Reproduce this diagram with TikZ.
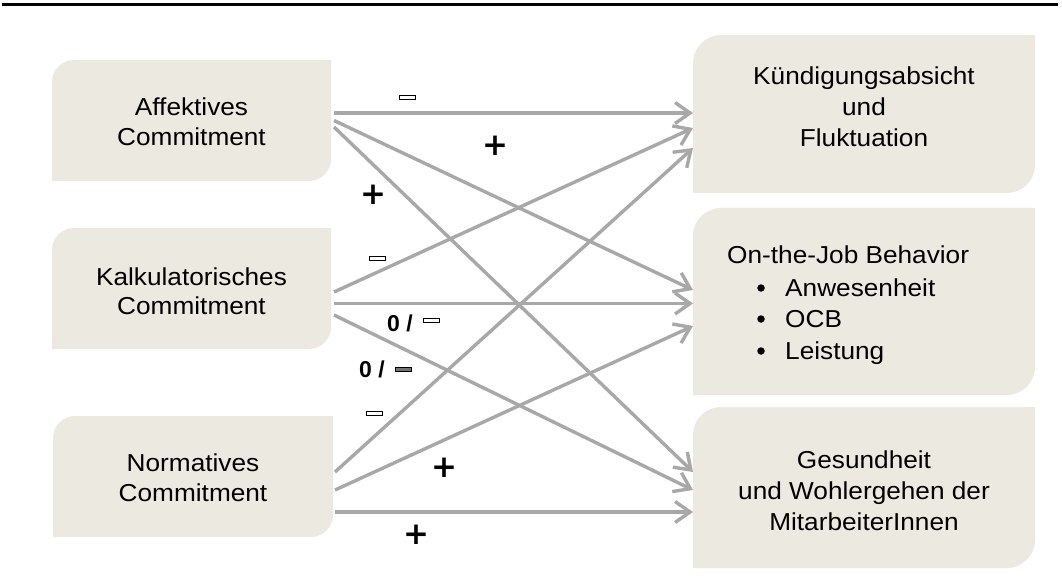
\documentclass[tikz,border=0pt]{standalone}
\usepackage{fontspec}
\setmainfont{Liberation Sans}[FakeStretch=1.07]
\newfontfamily\lblfont{Liberation Sans Bold}
\newfontfamily\plusfont{DejaVu Sans Bold}
\usetikzlibrary{arrows.meta}
\definecolor{boxfill}{RGB}{236,233,224}
\definecolor{arrowgray}{RGB}{168,168,168}
\newcommand\cornerbox[2]{%
  \fill[boxfill] ([yshift=-#2]#1.north west)
    .. controls ([yshift=-0.448*#2]#1.north west) and ([xshift=0.448*#2]#1.north west) .. ([xshift=#2]#1.north west)
    -- (#1.north east)
    -- ([yshift=#2]#1.south east)
    .. controls ([yshift=0.448*#2]#1.south east) and ([xshift=-0.448*#2]#1.south east) .. ([xshift=-#2]#1.south east)
    -- (#1.south west) -- cycle;}
\begin{document}
\begin{tikzpicture}[x=1pt,y=-1pt,
  boxarea/.style={inner sep=0pt,outer sep=0pt,minimum width=#1},
  txt/.style={inner sep=0pt,font=\fontsize{24.5}{30}\selectfont,anchor=base},
  conn/.style={draw=arrowgray,line width=3.4pt,-{Straight Barb[length=15pt,width=21pt,line width=3.4pt]}},
  plussign/.style={inner sep=0pt,font=\plusfont\fontsize{31}{31}\selectfont},
  zerolbl/.style={inner sep=0pt,font=\lblfont\fontsize{23}{23}\selectfont,anchor=base west},
  minusbar/.style={draw=black,line width=0.8pt,fill=white,minimum width=16pt,minimum height=4pt,inner sep=0pt},
  minusdark/.style={minusbar,fill=black!55},
  bulletdot/.style={circle,fill=black,inner sep=0pt,minimum size=7.5pt}]
\useasboundingbox (0,0) rectangle (1062,577);
\draw[line width=3pt] (2,5) -- (1058,5);

% box areas
\node[boxarea=279pt,minimum height=121pt] (aff) at (191.5,120.5) {};
\node[boxarea=279pt,minimum height=121pt] (kalk) at (191.5,288.5) {};
\node[boxarea=280pt,minimum height=121pt] (norm) at (193,476.5) {};
\node[boxarea=342pt,minimum height=158pt] (kuend) at (864,114) {};
\node[boxarea=342pt,minimum height=187pt] (otj) at (864,301.5) {};
\node[boxarea=342pt,minimum height=161pt] (ges) at (864,487.5) {};
\cornerbox{aff}{22pt}
\cornerbox{kalk}{22pt}
\cornerbox{norm}{22pt}
\cornerbox{kuend}{28pt}
\cornerbox{otj}{28pt}
\cornerbox{ges}{28pt}

% texts
\node[txt] (aff1) at (191.5,116) {Affektives};
\node[txt] (aff2) at (191.5,146) {Commitment};
\node[txt] (kalk1) at (191.5,285) {Kalkulatorisches};
\node[txt] (kalk2) at (191.5,314) {Commitment};
\node[txt] (norm1) at (193,471) {Normatives};
\node[txt] (norm2) at (193,501) {Commitment};
\node[txt] (kuend1) at (864,85) {Kündigungsabsicht};
\node[txt] (kuend2) at (864,116) {und};
\node[txt] (kuend3) at (864,147) {Fluktuation};
\node[txt,anchor=base west] (otj1) at (727,263) {On-the-Job Behavior};
\node[bulletdot] (b1) at (761,288) {};
\node[bulletdot] (b2) at (761,319) {};
\node[bulletdot] (b3) at (761,351) {};
\node[txt,anchor=base west] (otj2) at (785,296) {Anwesenheit};
\node[txt,anchor=base west] (otj3) at (785,327) {OCB};
\node[txt,anchor=base west] (otj4) at (785,359) {Leistung};
\node[txt] (ges1) at (864,468) {Gesundheit};
\node[txt] (ges2) at (864,499) {und Wohlergehen der};
\node[txt] (ges3) at (864,530) {MitarbeiterInnen};

% connectors
\draw[conn] ([xshift=3pt,yshift=7.5pt]aff.east) -- ([yshift=7.5pt]kuend.west |- aff.east);
\draw[conn] ([xshift=3pt]aff.east) -- ([yshift=11.5pt]otj.west);
\draw[conn] ([xshift=3pt,yshift=-6.5pt]aff.east) -- ([yshift=15.5pt]ges.west);
\draw[conn] ([xshift=3pt,yshift=-3.5pt]kalk.east) -- ([yshift=-14pt]kuend.west);
\draw[conn] ([xshift=3pt,yshift=-15pt]kalk.east) -- ([yshift=-2pt]otj.west);
\draw[conn] ([xshift=3pt,yshift=-26.5pt]kalk.east) -- ([yshift=-2.5pt]ges.west);
\draw[conn] ([xshift=2pt,yshift=4.5pt]norm.east) -- ([yshift=-34pt]kuend.west);
\draw[conn] ([xshift=2pt,yshift=-13.5pt]norm.east) -- ([yshift=-24.5pt]otj.west);
\draw[conn] ([xshift=2pt,yshift=-35.5pt]norm.east) -- ([yshift=-24.5pt]ges.west);

% labels
\node[minusbar] (m1) at (407,97) {};
\node[minusbar] (m2) at (377,258.5) {};
\node[minusbar] (m3) at (374,413.5) {};
\node[plussign] (p1) at (495,146) {+};
\node[plussign] (p2) at (373,195) {+};
\node[plussign] (p3) at (444,468) {+};
\node[plussign] (p4) at (416,535) {+};
\node[zerolbl] (z1) at (387,331) {0 /};
\node[minusbar] (z1m) at (431,320.5) {};
\node[zerolbl] (z2) at (359,377) {0 /};
\node[minusdark] (z2m) at (403.5,369) {};
\end{tikzpicture}
\end{document}
